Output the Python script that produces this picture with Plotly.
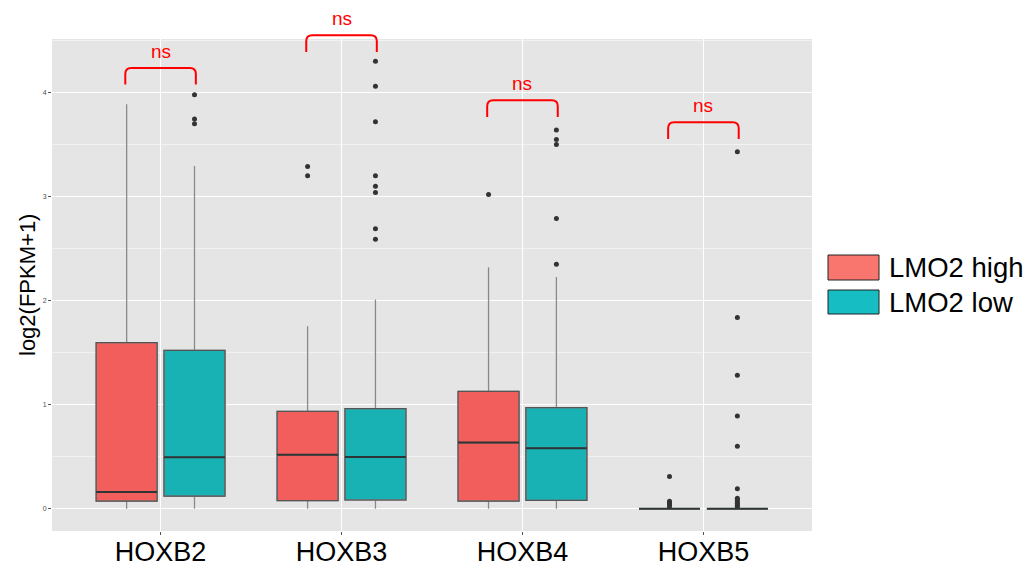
import plotly.graph_objects as go

# ---- data -------------------------------------------------------------
genes = ["HOXB2", "HOXB3", "HOXB4", "HOXB5"]
groups = ["LMO2 high", "LMO2 low"]

# box statistics per gene, one list per group
high_lower = [0.0, 0.0, 0.0, 0.0]
high_q1 = [0.073, 0.077, 0.073, 0.0]
high_median = [0.16, 0.519, 0.635, 0.0]
high_q3 = [1.596, 0.936, 1.128, 0.0]
high_upper = [3.888, 1.753, 2.32, 0.0]

low_lower = [0.0, 0.0, 0.0, 0.0]
low_q1 = [0.12, 0.083, 0.08, 0.0]
low_median = [0.493, 0.496, 0.58, 0.0]
low_q3 = [1.522, 0.962, 0.971, 0.0]
low_upper = [3.294, 2.01, 2.227, 0.0]

# outlying samples per gene
high_outliers = [
    [],
    [3.29, 3.20],
    [3.02],
    [0.31, 0.07, 0.06, 0.05, 0.04, 0.02],
]
low_outliers = [
    [3.98, 3.746, 3.70],
    [4.30, 4.06, 3.72, 3.20, 3.10, 3.04, 2.69, 2.59],
    [3.64, 3.55, 3.50, 2.79, 2.35],
    [3.43, 1.837, 1.282, 0.89, 0.60, 0.19, 0.10, 0.08, 0.06, 0.05, 0.03, 0.02],
]

# significance labels and the height of each comparison bracket
sig_labels = ["ns", "ns", "ns", "ns"]
bracket_top = [4.237, 4.551, 3.926, 3.714]

# ---- styling ----------------------------------------------------------
FONT = "Liberation Sans, Arial, Helvetica, sans-serif"
fill_colors = ["#F25E5B", "#18B2B5"]
key_colors = ["#F8766D", "#16BEC3"]
WHISKER = "#8a8a8a"
BORDER = "#555555"
MEDIAN = "#2f3535"
POINT = "#333333"
PANEL = "#E5E5E5"

X_RANGE = [0.4, 4.6]
Y_RANGE = [-0.215, 4.515]
DODGE = 0.1875
BOX_W = 0.337

W, H = 1029, 570
M_L, M_R, M_T, M_B = 52, 217, 39, 39
PW, PH = W - M_L - M_R, H - M_T - M_B


def xp(v):
    return (v - X_RANGE[0]) / (X_RANGE[1] - X_RANGE[0])


def yp(v):
    return (v - Y_RANGE[0]) / (Y_RANGE[1] - Y_RANGE[0])


def px_x(p):
    return (p - M_L) / PW


def px_y(p):
    return (H - M_B - p) / PH


fig = go.Figure()

stats = [
    (high_lower, high_q1, high_median, high_q3, high_upper, high_outliers),
    (low_lower, low_q1, low_median, low_q3, low_upper, low_outliers),
]
offsets = [-DODGE, DODGE]

for g, (lo, q1, med, q3, up, outl) in enumerate(stats):
    for i in range(len(genes)):
        pos = i + 1 + offsets[g]
        # full box with whiskers
        fig.add_trace(go.Box(
            x=[pos], q1=[q1[i]], median=[med[i]], q3=[q3[i]],
            lowerfence=[lo[i]], upperfence=[up[i]],
            width=BOX_W, whiskerwidth=0,
            fillcolor=fill_colors[g],
            line=dict(color=WHISKER, width=1.3),
            showlegend=False, hoverinfo="skip",
        ))
        # darker box outline
        fig.add_trace(go.Box(
            x=[pos], q1=[q1[i]], median=[med[i]], q3=[q3[i]],
            lowerfence=[q1[i]], upperfence=[q3[i]],
            width=BOX_W, whiskerwidth=0,
            fillcolor="rgba(0,0,0,0)",
            line=dict(color=BORDER, width=1.2),
            showlegend=False, hoverinfo="skip",
        ))
        # median bar
        fig.add_trace(go.Box(
            x=[pos], q1=[med[i]], median=[med[i]], q3=[med[i]],
            lowerfence=[med[i]], upperfence=[med[i]],
            width=BOX_W, whiskerwidth=0,
            fillcolor="rgba(0,0,0,0)",
            line=dict(color=MEDIAN, width=2),
            showlegend=False, hoverinfo="skip",
        ))
        if outl[i]:
            fig.add_trace(go.Scatter(
                x=[pos] * len(outl[i]), y=outl[i], mode="markers",
                marker=dict(color=POINT, size=5),
                showlegend=False, hoverinfo="skip",
            ))

shapes = []
annotations = []

# comparison brackets with labels (drawn outside the panel clip)
leg_drop = 0.16
corner_x = 6 / PW
corner_y = 6 / PH
for i, lab in enumerate(sig_labels):
    c = i + 1
    xl, xr = xp(c - 0.195), xp(c + 0.195)
    yt, yb = yp(bracket_top[i]), yp(bracket_top[i] - leg_drop)
    path = (
        f"M {xl},{yb} L {xl},{yt - corner_y} Q {xl},{yt} {xl + corner_x},{yt} "
        f"L {xr - corner_x},{yt} Q {xr},{yt} {xr},{yt - corner_y} L {xr},{yb}"
    )
    shapes.append(dict(type="path", xref="paper", yref="paper", path=path,
                       line=dict(color="#FF0000", width=2), layer="above"))
    annotations.append(dict(
        x=xp(c), y=yt + 16.5 / PH, xref="paper", yref="paper",
        text=lab, showarrow=False, xanchor="center", yanchor="middle",
        font=dict(family=FONT, size=19, color="#FF0000"),
    ))

# legend keys and labels
key_rows = [(255, 280), (290, 314)]
for g, (top, bot) in enumerate(key_rows):
    shapes.append(dict(
        type="rect", xref="paper", yref="paper",
        x0=px_x(828), x1=px_x(879), y0=px_y(bot), y1=px_y(top),
        fillcolor=key_colors[g], line=dict(color="#222222", width=1),
    ))
    annotations.append(dict(
        x=px_x(887), y=px_y((top + bot) / 2), xref="paper", yref="paper",
        text=groups[g], showarrow=False, xanchor="left", yanchor="middle",
        font=dict(family=FONT, size=27.5, color="#000000"),
    ))

# y-axis title
annotations.append(dict(
    x=px_x(27), y=0.5, xref="paper", yref="paper",
    text="log2(FPKM+1)", textangle=-90, showarrow=False,
    xanchor="center", yanchor="middle",
    font=dict(family=FONT, size=22, color="#000000"),
))

fig.update_layout(
    width=W, height=H,
    margin=dict(l=M_L, r=M_R, t=M_T, b=M_B, pad=0, autoexpand=False),
    paper_bgcolor="white",
    plot_bgcolor=PANEL,
    boxmode="overlay",
    showlegend=False,
    shapes=shapes,
    annotations=annotations,
    font=dict(family=FONT),
    xaxis=dict(
        range=X_RANGE, tickmode="array", tickvals=[1, 2, 3, 4], ticktext=genes,
        showgrid=True, gridcolor="white", gridwidth=1.4, zeroline=False,
        ticks="outside", ticklen=3, tickcolor="#555555", tickwidth=1,
        tickfont=dict(family=FONT, size=27, color="#000000"),
        ticklabelstandoff=-6,
        showline=False, fixedrange=True, automargin=False,
    ),
    yaxis=dict(
        range=Y_RANGE, tickmode="linear", tick0=0, dtick=1,
        showgrid=True, gridcolor="white", gridwidth=1.4, zeroline=False,
        ticks="outside", ticklen=3, tickcolor="#555555", tickwidth=1,
        tickfont=dict(family=FONT, size=7, color="#4d4d4d"),
        minor=dict(dtick=0.5, tick0=0, showgrid=True, gridcolor="#F2F2F2",
                   gridwidth=0.8),
        showline=False, fixedrange=True, automargin=False,
    ),
)

fig.write_html("out.html")
